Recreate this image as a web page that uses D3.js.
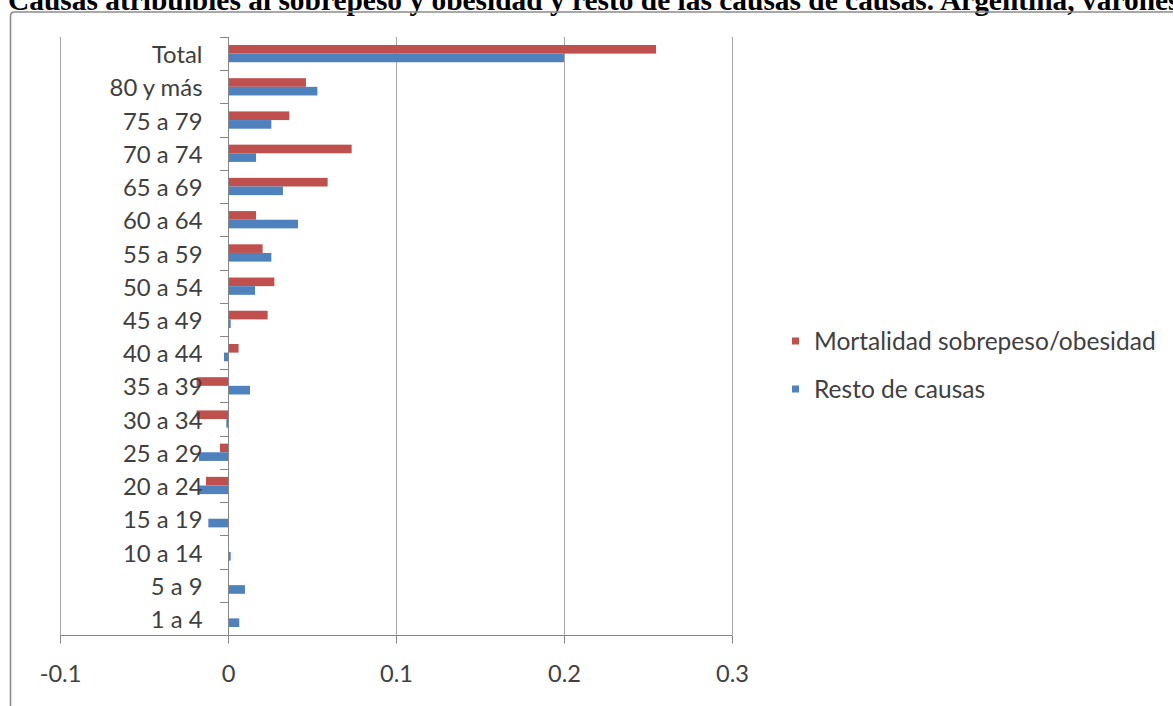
<!DOCTYPE html>
<html><head><meta charset="utf-8">
<script src="https://cdn.jsdelivr.net/npm/d3@7"></script>
<style>
html,body{margin:0;padding:0;background:#fff;overflow:hidden;}
svg{display:block;}
</style></head>
<body>
<svg id="chart" width="1173" height="706"></svg>
<script>
const titleText = "Causas atribuibles al sobrepeso y obesidad y resto de las causas de causas. Argentina, varones";
const categories = ["Total","80 y más","75 a 79","70 a 74","65 a 69","60 a 64","55 a 59","50 a 54","45 a 49","40 a 44","35 a 39","30 a 34","25 a 29","20 a 24","15 a 19","10 a 14","5 a 9","1 a 4"];
const obesidad = [0.2548,0.0464,0.0365,0.0736,0.0593,0.0167,0.0206,0.0276,0.0236,0.0063,-0.0187,-0.0187,-0.0048,-0.0131,0,0,0,0];
const resto    = [0.2000,0.0532,0.0258,0.0167,0.0327,0.0417,0.0258,0.0161,0.0016,-0.0024,0.0131,-0.0010,-0.0173,-0.0173,-0.0117,0.0016,0.0101,0.0067];
const seriesNames = ["Mortalidad sobrepeso/obesidad","Resto de causas"];
const tickValues = [-0.1,0,0.1,0.2,0.3];
const tickLabels = ["-0.1","0","0.1","0.2","0.3"];
const colors = ["#C0504D","#4F81BD"];

const svg = d3.select("#chart");
const font = "Lato, 'Open Sans', sans-serif";
const textColor = "#3f3f3f";

// helper: font size so that a sample string reaches a target width
function fitSize(str, target, family, weight){
  const t = svg.append("text").attr("font-family",family).attr("font-weight",weight||"normal")
    .attr("font-size",20).text(str);
  const w = t.node().getComputedTextLength();
  t.remove();
  return 20*target/w;
}
const labelSize = fitSize("80 y más", 93, font);
const legendSize = fitSize("Mortalidad sobrepeso/obesidad", 342, font);
const tickSize = fitSize("0.3", 33, font);

// title
const titleFamily = "'Liberation Serif','Times New Roman',serif";
svg.append("text").attr("x",8).attr("y",10)
  .attr("font-family",titleFamily).attr("font-weight","bold")
  .attr("font-size",fitSize(titleText,1172,titleFamily,"bold")).attr("fill","#000").text(titleText);

// frame
svg.append("path").attr("d","M10.5,706 L10.5,16 Q10.5,12 14.5,12 L1173,12")
  .attr("fill","none").attr("stroke","#8c8c8c").attr("stroke-width",1.6);

const x = d3.scaleLinear().domain([-0.1,0.3]).range([60,732]);
const y = d3.scaleBand().domain(categories).range([37,635]);
const barH = y.bandwidth()*0.26;

// gridlines
svg.append("g").selectAll("line").data(tickValues.filter(d=>d!==0)).join("line")
  .attr("x1",d=>x(d)+0.5).attr("x2",d=>x(d)+0.5).attr("y1",y.range()[0]).attr("y2",y.range()[1])
  .attr("stroke","#a6a6a6").attr("stroke-width",1);

// bars
const bars = svg.append("g");
[obesidad,resto].forEach((vals,si)=>{
  bars.selectAll(null).data(categories).join("rect")
    .attr("x",(d,i)=>x(Math.min(0,vals[i])))
    .attr("width",(d,i)=>Math.abs(x(vals[i])-x(0)))
    .attr("y",d=>y(d)+y.bandwidth()/2 - barH + si*barH)
    .attr("height",barH)
    .attr("fill",colors[si]);
});

// x axis
const xAxis = svg.append("g").attr("transform","translate(0,635.5)")
  .call(d3.axisBottom(x).tickValues(tickValues).tickSize(8).tickPadding(20)
    .tickFormat((d,i)=>tickLabels[i]));
xAxis.select(".domain").attr("stroke","#868686").attr("d","M60,0H732");
xAxis.selectAll(".tick line").attr("stroke","#868686");
xAxis.selectAll("text").attr("font-family",font).attr("font-size",tickSize).attr("fill",textColor)
  .attr("y",38).attr("dy","0.35em");

// y axis
const yAxis = svg.append("g").attr("transform","translate(228.5,0)")
  .call(d3.axisLeft(y).tickSize(0).tickPadding(26));
yAxis.select(".domain").attr("stroke","#868686").attr("d","M0,37V635");
yAxis.selectAll("text").attr("font-family",font).attr("font-size",labelSize).attr("fill",textColor)
  .attr("dy","0.4em");
// category tick marks at band boundaries
svg.append("g").selectAll("line").data(d3.range(categories.length+1)).join("line")
  .attr("x1",220).attr("x2",228.5)
  .attr("y1",i=>Math.round(37 + i*y.step())+0.5).attr("y2",i=>Math.round(37 + i*y.step())+0.5)
  .attr("stroke","#868686");

// legend
const legend = svg.append("g");
const ly = [341,389];
seriesNames.forEach((n,i)=>{
  legend.append("rect").attr("x",792).attr("y",ly[i]-3.5).attr("width",7).attr("height",7).attr("fill",colors[i]);
  legend.append("text").attr("x",814).attr("y",ly[i]).attr("dy","0.35em")
    .attr("font-family",font).attr("font-size",legendSize).attr("fill",textColor).text(n);
});
</script>
</body></html>
